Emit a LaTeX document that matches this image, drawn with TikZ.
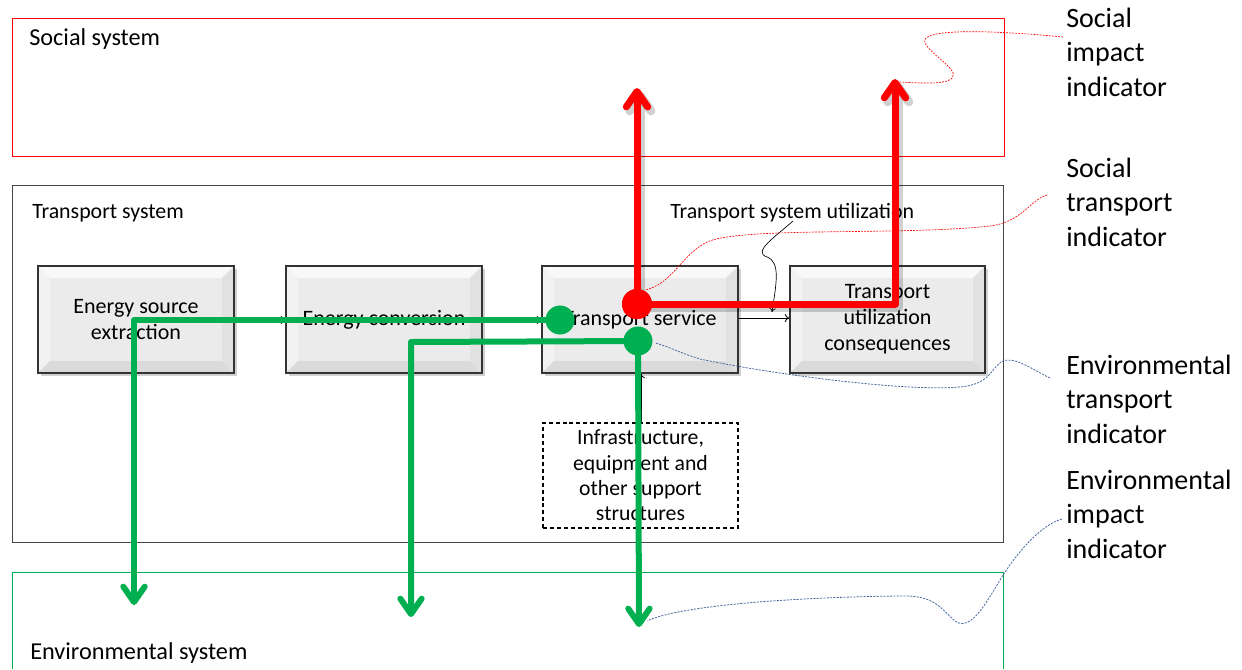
\documentclass[tikz,border=0pt]{standalone}
\usepackage{fontspec}
\setmainfont{Carlito}
\usetikzlibrary{arrows.meta,shadows}

\definecolor{sred}{HTML}{FF0000}
\definecolor{egreen}{HTML}{00B050}
\definecolor{cblue}{HTML}{4A6A9E}
\definecolor{framegray}{HTML}{454545}
\definecolor{bvmid}{HTML}{EBEBEB}
\definecolor{bvtop}{HTML}{F9F9F9}
\definecolor{bvleft}{HTML}{F2F2F2}
\definecolor{bvbottom}{HTML}{DADADA}
\definecolor{bvright}{HTML}{E1E1E1}

\newcommand{\boxfont}{\fontsize{16.5}{19.5}\selectfont}
\newcommand{\infrafont}{\fontsize{16.3}{19}\selectfont}
\newcommand{\indfont}{\fontsize{21}{25.8}\selectfont}

\tikzset{
  bevelbox/.style={
    draw=black!80, line width=0.9pt, fill=bvmid,
    minimum width=147pt, minimum height=80.25pt, inner sep=0pt,
    align=center, font=\boxfont,
    drop shadow={shadow xshift=2pt, shadow yshift=-2pt, opacity=0.3, fill=black!60},
    path picture={
      \coordinate (bsw) at (path picture bounding box.south west);
      \coordinate (bne) at (path picture bounding box.north east);
      \coordinate (bnw) at (path picture bounding box.north west);
      \coordinate (bse) at (path picture bounding box.south east);
      \fill[bvtop] (bnw) -- (bne) -- ([xshift=-9pt,yshift=-9pt]bne) -- ([xshift=9pt,yshift=-9pt]bnw) -- cycle;
      \fill[bvleft] (bnw) -- (bsw) -- ([xshift=9pt,yshift=9pt]bsw) -- ([xshift=9pt,yshift=-9pt]bnw) -- cycle;
      \fill[bvbottom] (bsw) -- (bse) -- ([xshift=-9pt,yshift=9pt]bse) -- ([xshift=9pt,yshift=9pt]bsw) -- cycle;
      \fill[bvright] (bse) -- (bne) -- ([xshift=-9pt,yshift=-9pt]bne) -- ([xshift=-9pt,yshift=9pt]bse) -- cycle;
    }},
  infrabox/.style={draw=black, line width=0.8pt, dash pattern=on 3pt off 2.2pt,
    minimum width=146.25pt, minimum height=78.75pt, inner sep=0pt,
    align=center, font=\infrafont},
  container/.style={minimum width=744pt, inner sep=0pt, anchor=north west},
  syslabel/.style={inner sep=0pt, anchor=base west},
  % multi-line labels: the base anchor sits on the last line
  indlabel/.style={inner sep=0pt, anchor=base west, align=left, font=\indfont},
  redline/.style={draw=sred, line width=5.25pt, line cap=round, line join=round,
    -{Straight Barb[round, length=11.5pt, width=16pt]}},
  redshade/.style={draw=black, opacity=0.18, line width=6.5pt, line cap=round, line join=round,
    -{Straight Barb[round, length=11.5pt, width=16pt]}},
  greenline/.style={draw=egreen, line width=4.5pt, line join=round,
    -{Straight Barb[round, length=11.5pt, width=16pt]}},
  reddot/.style={circle, fill=sred, minimum size=22.5pt, inner sep=0pt},
  greendot/.style={circle, fill=egreen, minimum size=21.5pt, inner sep=0pt},
  flow/.style={draw=black, line width=0.6pt, -{To[length=3.5pt,width=6pt]}},
  redcall/.style={draw=sred, line width=0.5pt, dash pattern=on 1.4pt off 0.9pt},
  bluecall/.style={draw=cblue, line width=0.6pt, dash pattern=on 1.6pt off 0.9pt},
}

\begin{document}
\begin{tikzpicture}[x=0.75pt, y=-0.75pt]
\useasboundingbox (0,0) rectangle (1242,669);

% the three systems
\node[container, draw=sred, line width=0.6pt, minimum height=103.5pt] (social) at (12,18) {};
\node[container, draw=framegray, line width=0.8pt, minimum width=743.25pt, minimum height=267.75pt] (transport) at (12,185) {};
\draw[egreen, line width=0.6pt] (12,669) -- (12,572) -- (1003,572) -- (1003,669);

\node[syslabel, font=\fontsize{18.2}{21}\selectfont] (sslbl) at (29,45) {Social system};
\node[syslabel, font=\fontsize{16.4}{19}\selectfont] (tslbl) at (32,218) {Transport system};
\node[syslabel, font=\fontsize{18.2}{21}\selectfont] (eslbl) at (30,659) {Environmental system};
\node[syslabel, font=\fontsize{16.4}{19}\selectfont] (tsulbl) at (670,218) {Transport system utilization};

% process chain
\node[bevelbox] (ese) at (136,319.5) {Energy source\\extraction};
\node[bevelbox] (ec) at (384,319.5) {Energy conversion};
\node[bevelbox] (ts) at (640,319.5) {Transport service};
\node[bevelbox, minimum width=146.25pt] (tuc) at (887.5,319.5) {Transport\\utilization\\consequences};
\node[infrabox] (infra) at (640.5,475.5) {Infrastructure,\\equipment and\\other support\\structures};

\draw[flow] (ese.east |- 0,320) -- (ec.west |- 0,320);
\draw[flow] (ec.east |- 0,320) -- (ts.west |- 0,320);
\draw[flow] (ts.east |- 0,318) -- (tuc.west |- 0,318);
\draw[flow] (infra.north -| 641,0) -- (ts.south -| 641,0);

% indicator labels
\node[indlabel] (sii) at (1066,96) {Social\\impact\\indicator};
\node[indlabel] (sti) at (1066,246) {Social\\transport\\indicator};
\node[indlabel] (eti) at (1066,443) {Environmental\\transport\\indicator};
\node[indlabel] (eii) at (1066,558) {Environmental\\impact\\indicator};

% junction points and arrow ends
\coordinate (rtop1) at (637,88);
\coordinate (rcorner) at (895,304);
\coordinate (rtop2) at (895,79);
\coordinate (gleft1) at (134,320);
\coordinate (gdown1) at (134,605);
\coordinate (gleft2) at (411,342);
\coordinate (gdown2) at (411,617);
\coordinate (gdown3) at (639,627);

% callout lines
\draw[draw=black, line width=0.5pt, -{To[length=3pt,width=5pt]}] (793,221) .. controls (775,237) and (752,252) .. (767,257) .. controls (781,262) and (776,285) .. (772,312);
\draw[redcall] (1063,37) .. controls (990,30) and (918,28) .. (925,43) .. controls (932,57) and (968,74) .. (947,81) .. controls (932,85) and (910,82) .. (897,82);
\draw[redcall] (1047,195) .. controls (1030,200) and (1022,222) .. (990,226) .. controls (900,236) and (735,226) .. (705,243) .. controls (680,257) and (672,284) .. (645,290);
\draw[bluecall] (1050,378) .. controls (1030,368) and (1012,355) .. (1001,362) .. controls (990,370) and (990,384) .. (960,387) .. controls (900,392) and (760,372) .. (700,359) .. controls (680,353) and (665,345) .. (655,343);
\draw[bluecall] (1062,519) .. controls (1040,525) and (1015,555) .. (1000,580) .. controls (985,605) and (970,632) .. (955,621) .. controls (940,608) and (935,595) .. (900,596) .. controls (800,597) and (680,605) .. (647,621);

% social flows
\node[reddot] (rdot) at (637,304) {};
\draw[redshade] ([xshift=2.5pt,yshift=-2.5pt]rdot.center) -- ([xshift=2.5pt,yshift=-2.5pt]rtop1);
\draw[redshade] ([xshift=2.5pt,yshift=-2.5pt]rdot.center) -- ([xshift=2.5pt,yshift=-2.5pt]rcorner) -- ([xshift=2.5pt,yshift=-2.5pt]rtop2);
\draw[redline] (rdot.center) -- (rtop1);
\draw[redline] (rdot.center) -- (rcorner) -- (rtop2);
\node[reddot] at (rdot) {};

% environmental flows
\node[greendot] (g1) at (560,320) {};
\node[greendot] (g2) at (638,341) {};
\draw[greenline] (g1.center) -- (gleft1) -- (gdown1);
\draw[greenline] (g2.center) -- (gleft2) -- (gdown2);
\draw[greenline] (g2.center) -- (gdown3);
\node[greendot] at (g1) {};
\node[greendot] at (g2) {};
\end{tikzpicture}
\end{document}
